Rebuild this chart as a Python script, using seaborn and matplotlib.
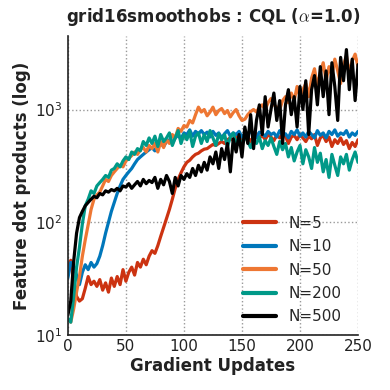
import numpy as np
import pandas as pd
import matplotlib
matplotlib.use("Agg")
import matplotlib.pyplot as plt
import seaborn as sns

steps = np.arange(0, 251, 2.5)

n5 = [40, 46, 30, 22, 20,
      21, 26, 33, 28, 30, 27,
      31, 25, 29, 24, 32, 27,
      33, 28, 38, 30, 36, 40,
      34, 44, 40, 47, 42, 50,
      56, 53, 62, 75, 90, 108,
      130, 160, 200, 240, 275, 310,
      340, 355, 380, 400, 410, 430,
      445, 450, 470, 490, 480, 500,
      520, 500, 540, 560, 530, 570,
      590, 550, 600, 570, 520, 580, 610, 560, 590, 540, 600, 570,
      530, 590, 560, 610, 580, 500, 570, 590, 540, 600, 560, 520,
      580, 550, 600, 480, 560, 590, 520, 570, 470, 540, 500, 560,
      490, 530, 450, 510, 470, 540]

n10 = [32, 44, 40, 34, 28,
       36, 42, 38, 44, 40, 43,
       50, 62, 80, 100, 125, 150,
       180, 210, 240, 260, 280, 300,
       330, 360, 380, 400, 420, 440,
       460, 430, 480, 500, 470, 520,
       540, 500, 560, 590, 550, 620,
       600, 660, 580, 640, 610, 650,
       600, 630, 570, 640, 590, 620, 560, 610, 650, 580, 620, 600,
       640, 570, 610, 590, 650, 600, 560, 630, 610, 580, 640, 600,
       620, 570, 650, 590, 610, 560, 640, 600, 660, 580, 620, 570,
       640, 600, 560, 650, 590, 620, 560, 640, 600, 660, 580, 620,
       600, 650, 570, 620, 590, 640]

n50 = [14, 13, 17, 24, 33,
       50, 70, 95, 130, 160, 175,
       185, 210, 240, 230, 260, 280,
       300, 320, 310, 350, 370, 390,
       420, 400, 440, 460, 420, 480,
       450, 500, 420, 520, 460, 540,
       500, 600, 560, 680, 640, 720,
       700, 800, 760, 900, 1050, 950,
       1000, 880, 950, 1050, 900, 980,
       1020, 920, 980, 860, 940, 1000,
       880, 800, 820, 900, 960, 1000,
       950, 1050, 1100, 1000, 1150, 1250,
       1100, 1050, 1000, 1200, 1300, 1150,
       1400, 1200, 1600, 1300, 1500, 1700,
       1300, 1900, 2300, 1600, 2100, 2600,
       1800, 2400, 2000, 2800, 2200, 1700,
       2500, 3000, 2100, 2700, 3100, 2400]

n200 = [14, 13, 22, 40, 60,
        97, 140, 160, 190, 180, 210,
        225, 240, 260, 250, 290, 300,
        330, 310, 350, 380, 360, 420,
        400, 450, 430, 520, 480, 560,
        500, 580, 470, 600, 520, 560,
        620, 480, 560, 650, 500, 600,
        540, 640, 470, 580, 620, 500,
        600, 520, 650, 560, 480, 610,
        540, 600, 470, 570, 620, 500,
        560, 480, 590, 520, 460, 540,
        500, 570, 450, 530, 480, 560,
        470, 400, 520, 440, 500, 380,
        460, 350, 420, 480, 330, 440,
        380, 300, 460, 340, 410, 280,
        360, 250, 400, 320, 260, 380,
        330, 400, 290, 360, 420, 340]

n500 = [15, 20, 45, 80, 110,
        125, 140, 150, 160, 170, 165,
        180, 175, 190, 185, 195, 190,
        200, 190, 210, 205, 220, 200,
        215, 230, 210, 240, 220, 235,
        225, 250, 200, 240, 215, 260,
        230, 180, 250, 210, 260, 240,
        270, 250, 300, 260, 320, 280,
        340, 290, 380, 330, 420, 300,
        450, 360, 500, 280, 550, 420,
        600, 380, 700, 500, 900, 450,
        800, 1100, 600, 1300, 700, 1000,
        1400, 800, 1200, 500, 1100, 1500,
        900, 1300, 700, 1600, 1000, 1800,
        600, 1500, 2000, 1100, 2400, 1300,
        2200, 900, 2600, 1600, 800, 2900,
        1800, 3400, 1500, 2800, 1200, 2500]

labels = ["N=5", "N=10", "N=50", "N=200", "N=500"]
series = [n5, n10, n50, n200, n500]
colors = ["#CC3311", "#0077BB", "#EE7733", "#009988", "#000000"]

df = pd.concat([pd.DataFrame({"step": steps, "value": s, "N": lab})
                for s, lab in zip(series, labels)], ignore_index=True)

sns.set_style("white")
plt.rcParams['font.family'] = ['DejaVu Sans']
plt.rcParams['mathtext.fontset'] = 'cm'

fig = plt.figure(figsize=(3.9, 3.9), dpi=100)
ax = fig.add_axes([0.174, 0.141, 0.744, 0.767])

sns.lineplot(data=df, x="step", y="value", hue="N", hue_order=labels,
             palette=dict(zip(labels, colors)), linewidth=2.3, ax=ax,
             estimator=None)

ax.set_yscale("log")
ax.set_xlim(0, 250)
ax.set_ylim(10, 4500)
ax.set_xticks([0, 50, 100, 150, 200, 250])
ax.grid(True, which="major", linestyle=":", color="#999999", linewidth=1)
ax.minorticks_off()
ax.tick_params(axis="both", which="both", length=0, labelsize=11,
               colors="#222222")
ax.tick_params(axis="y", pad=4)
ax.tick_params(axis="x", pad=3)
for side in ["top", "right"]:
    ax.spines[side].set_visible(False)
for side in ["left", "bottom"]:
    ax.spines[side].set_color("#222222")
    ax.spines[side].set_linewidth(1.2)

ax.set_xlabel("Gradient Updates", fontsize=12, fontweight="bold", color="#222222", labelpad=2)
ax.set_ylabel("Feature dot products (log)", fontsize=12, fontweight="bold", color="#222222", labelpad=3)
ax.set_title(r"grid16smoothobs : CQL ($\alpha$=1.0)", fontsize=12, fontweight="bold",
             color="#222222", pad=10)

leg = ax.legend(loc="lower right", frameon=False, fontsize=11, handlelength=2.2,
                labelspacing=0.55, borderaxespad=0.3, bbox_to_anchor=(0.98, 0.0))
for h in leg.get_lines():
    h.set_linewidth(3)

fig.savefig("out.png", dpi=100)
